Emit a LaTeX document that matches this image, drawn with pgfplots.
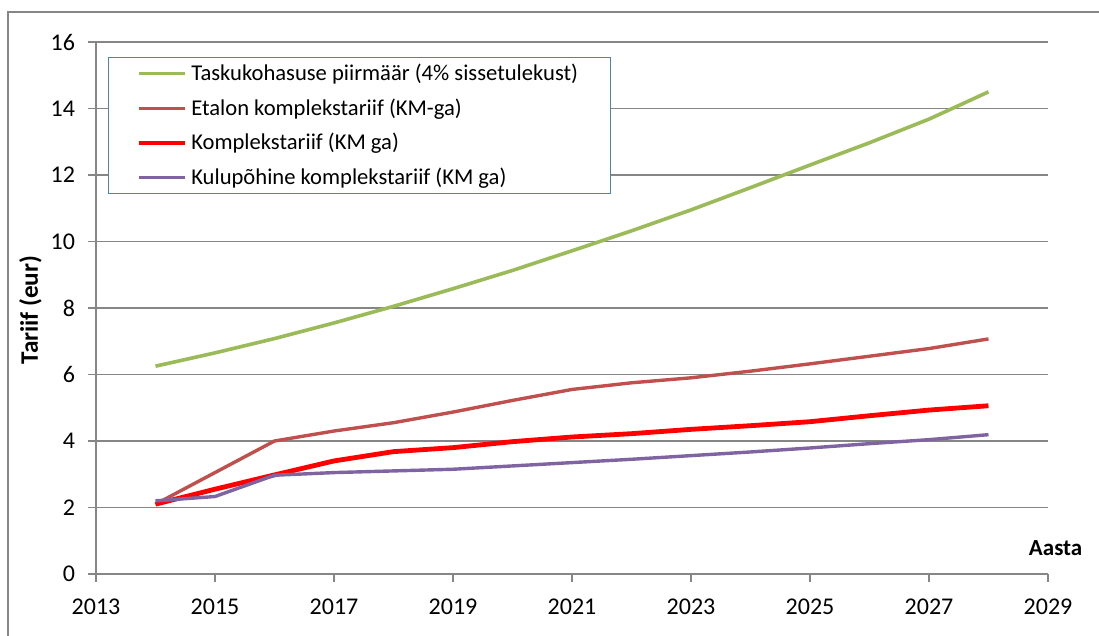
\documentclass[border=0pt]{standalone}
\usepackage{pgfplots}
\pgfplotsset{compat=1.18}
\usepackage{fontspec}
\setmainfont{Carlito}
\definecolor{cgreen}{HTML}{9BBB59}
\definecolor{cbrown}{HTML}{C0504D}
\definecolor{cred}{HTML}{FF0000}
\definecolor{cpurple}{HTML}{8064A2}
\definecolor{cgrid}{HTML}{868686}
\definecolor{cleg}{HTML}{4F81BD}
\begin{document}
\begin{tikzpicture}
\begin{axis}[
  scale only axis,
  width=476pt, height=266pt,
  xmin=2013, xmax=2029, ymin=0, ymax=16,
  xtick={2013,2015,...,2029},
  ytick={0,2,...,16},
  axis lines*=left,
  axis line style={cgrid, line width=0.8pt},
  tick align=outside,
  major tick length=4pt,
  tick style={cgrid, line width=0.8pt},
  ymajorgrids,
  grid style={cgrid, line width=0.9pt},
  /pgf/number format/assume math mode=true,
  /pgf/number format/1000 sep={},
  xticklabel style={font=\fontsize{12}{14}\selectfont, yshift=-5pt},
  yticklabel style={font=\fontsize{12}{14}\selectfont, xshift=-3pt},
  xlabel={Aasta},
  ylabel={Tariif (eur)},
  every axis x label/.style={at={(axis description cs:1.008,0.049)}, anchor=center, font=\bfseries\fontsize{11.5}{13}\selectfont},
  every axis y label/.style={at={(axis description cs:-0.069,0.496)}, rotate=90, anchor=center, font=\bfseries\fontsize{12.6}{15}\selectfont},
  legend style={at={(rel axis cs:0.0126,0.972)}, anchor=north west, draw=cleg, line width=0.5pt,
    font=\fontsize{11.3}{13}\selectfont, inner xsep=14pt, inner ysep=1.2pt, row sep=3.6pt,
    /tikz/every even column/.append style={column sep=0pt}},
  legend cell align=left,
  legend image code/.code={\draw[#1, line cap=butt] (0pt,0pt) -- (23pt,0pt);},
]
\addplot[cgreen, line width=1.8pt, line join=round] coordinates {
(2014,6.25)(2015,6.65)(2016,7.08)(2017,7.55)(2018,8.05)(2019,8.58)(2020,9.13)(2021,9.72)
(2022,10.32)(2023,10.95)(2024,11.62)(2025,12.3)(2026,12.97)(2027,13.68)(2028,14.5)};
\addlegendentry{Taskukohasuse piirmäär (4\% sissetulekust)}
\addplot[cbrown, line width=1.7pt, line join=round] coordinates {
(2014,2.1)(2015,3.05)(2016,4.0)(2017,4.3)(2018,4.55)(2019,4.87)(2020,5.22)(2021,5.55)
(2022,5.75)(2023,5.9)(2024,6.1)(2025,6.32)(2026,6.55)(2027,6.78)(2028,7.07)};
\addlegendentry{Etalon komplekstariif (KM-ga)}
\addplot[cred, line width=2.4pt, line join=round] coordinates {
(2014,2.1)(2015,2.55)(2016,2.98)(2017,3.4)(2018,3.68)(2019,3.8)(2020,3.98)(2021,4.12)
(2022,4.22)(2023,4.35)(2024,4.46)(2025,4.58)(2026,4.76)(2027,4.93)(2028,5.06)};
\addlegendentry{Komplekstariif (KM ga)}
\addplot[cpurple, line width=1.7pt, line join=round] coordinates {
(2014,2.2)(2015,2.33)(2016,2.97)(2017,3.05)(2018,3.1)(2019,3.15)(2020,3.25)(2021,3.35)
(2022,3.45)(2023,3.56)(2024,3.67)(2025,3.79)(2026,3.92)(2027,4.04)(2028,4.19)};
\addlegendentry{Kulupõhine komplekstariif (KM ga)}
\end{axis}
\draw[cgrid, line width=1.3pt] (-44pt,-40pt) -- (-44pt,281pt) -- (510pt,281pt);
\pgfresetboundingbox
\useasboundingbox (-48pt,-31pt) rectangle (501.5pt,287pt);
\end{tikzpicture}
\end{document}
